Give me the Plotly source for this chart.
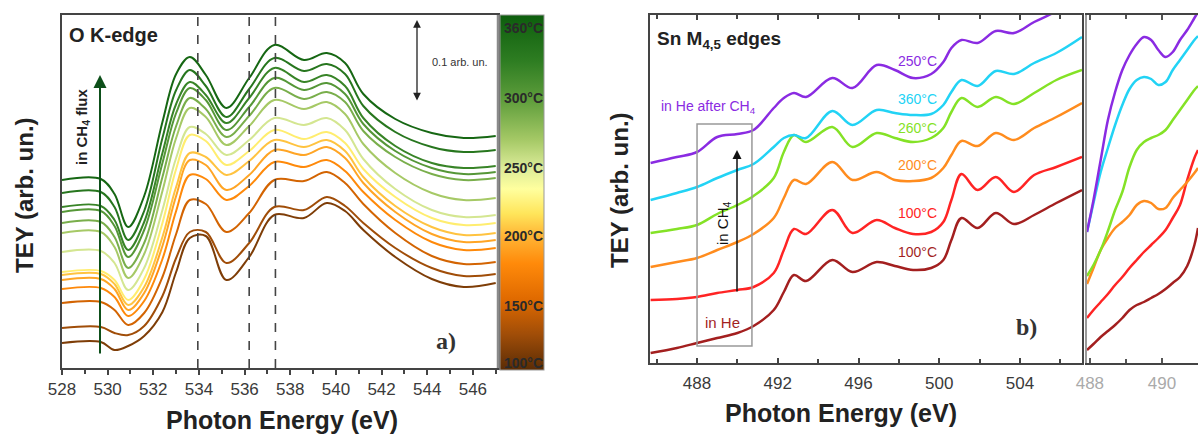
import numpy as np
import plotly.graph_objects as go
from plotly.colors import sample_colorscale

W, H = 1198, 438

# ---------------- Panel a : O K-edge (TEY, arbitrary units) ----------------
E_a = [528, 529.7, 530.3, 530.9, 531.6, 532.4, 533.0, 533.6, 534.3, 535.2,
       536.2, 537.3, 538.6, 539.6, 540.4, 541.2, 542.6, 544.2, 545.6, 547.0]

# estimated temperature (deg C) of each spectrum, bottom -> top
temps_a = [110, 125, 150, 180, 193, 205, 222, 253, 270, 288, 305, 325, 340, 360]

okedge_01 = [25, 26, 18, 22, 32, 56, 96, 130, 132, 88, 111, 153, 150, 165, 157, 138, 111, 89, 81, 85]
okedge_02 = [40, 41, 35, 33, 42, 72, 110, 136, 136, 105, 125, 161, 158, 171, 162, 145, 120, 100, 92, 94]
okedge_03 = [65, 66, 58, 43, 55, 91, 134, 168, 164, 136, 155, 188, 187, 196, 185, 164, 135, 112, 104, 106]
okedge_04 = [79, 80, 71, 52, 67, 109, 157, 193, 189, 168, 182, 206, 201, 208, 197, 176, 148, 126, 118, 120]
okedge_05 = [88, 89, 79, 58, 75, 122, 172, 208, 203, 178, 193, 218, 213, 221, 210, 185, 156, 134, 126, 128]
okedge_06 = [93, 94, 84, 63, 81, 131, 181, 215, 211, 193, 207, 228, 221, 228, 217, 191, 162, 141, 133, 135]
okedge_07 = [96, 97, 88, 68, 89, 145, 199, 233, 227, 203, 217, 238, 229, 236, 225, 199, 171, 150, 143, 145]
okedge_08 = [116, 117, 105, 78, 100, 158, 210, 241, 234, 213, 228, 250, 243, 250, 238, 209, 179, 158, 151, 153]
okedge_09 = [135, 136, 121, 90, 114, 177, 230, 260, 251, 223, 242, 268, 259, 266, 254, 224, 195, 175, 168, 170]
okedge_10 = [145, 146, 131, 100, 125, 191, 242, 270, 259, 231, 252, 280, 269, 276, 266, 237, 211, 194, 188, 190]
okedge_11 = [156, 157, 142, 111, 138, 205, 255, 280, 268, 238, 261, 290, 278, 285, 274, 244, 217, 200, 194, 196]
okedge_12 = [161, 162, 148, 118, 146, 215, 264, 286, 273, 245, 270, 300, 286, 293, 282, 250, 222, 205, 200, 202]
okedge_13 = [175, 176, 161, 128, 157, 230, 278, 298, 282, 251, 279, 310, 297, 304, 294, 262, 236, 221, 216, 218]
okedge_14 = [188, 189, 174, 141, 172, 246, 294, 311, 293, 260, 290, 323, 308, 315, 305, 274, 249, 235, 230, 232]

okedge_curves = [okedge_01, okedge_02, okedge_03, okedge_04, okedge_05, okedge_06, okedge_07,
                 okedge_08, okedge_09, okedge_10, okedge_11, okedge_12, okedge_13, okedge_14]

dashed_E = [533.95, 536.2, 537.35]

cb_tick_T = [100, 150, 200, 250, 300, 360]
cb_tick_text = ["100°C", "150°C", "200°C", "250°C", "300°C", "360°C"]
cb_tick_pos = [0.02, 0.18, 0.377, 0.569, 0.766, 0.963]

colorscale_a = [[0.0, '#5a2c05'], [0.1, '#a04d08'], [0.2, '#e06a00'], [0.3, '#ff8a0a'],
                [0.38, '#ffb636'], [0.44, '#ffe55a'], [0.51, '#ffff9e'], [0.57, '#dbeb98'],
                [0.65, '#a4c865'], [0.76, '#5f9e3c'], [0.87, '#2e7d22'], [1.0, '#0d5e0d']]

# ---------------- Panel b : Sn M4,5 edges ----------------
E_b = [485.7, 487, 488, 489, 490, 490.8, 491.8, 492.3, 492.8, 493.4, 494.7, 495.7, 496.9,
       497.8, 498.7, 499.6, 500.2, 500.6, 501.1, 501.9, 502.8, 503.7, 504.7, 505.8, 507.07]

sn_he = [10, 15, 20, 25, 30, 37, 53, 71, 88, 82, 103, 91, 101, 97, 93, 95, 103, 123, 145, 135, 150, 139, 148, 160, 173]
sn_100 = [63, 64, 66, 70, 73, 76, 90, 113, 134, 129, 153, 130, 143, 135, 129, 131, 141, 163, 189, 173, 186, 171, 188, 196, 206]
sn_200 = [96, 101, 105, 113, 121, 129, 145, 165, 183, 179, 201, 183, 191, 183, 182, 185, 195, 208, 222, 217, 230, 223, 235, 246, 260]
sn_260 = [130, 134, 138, 149, 158, 167, 185, 211, 228, 221, 236, 216, 230, 225, 221, 225, 235, 251, 265, 256, 266, 259, 270, 283, 293]
sn_360 = [163, 170, 176, 185, 193, 199, 216, 225, 228, 225, 252, 238, 253, 250, 248, 249, 258, 271, 283, 277, 292, 289, 300, 310, 326]
sn_250_after = [200, 206, 211, 226, 229, 233, 255, 265, 270, 266, 285, 275, 298, 293, 285, 289, 301, 315, 323, 320, 332, 330, 341, 352, 372]

sn_labels = ["100°C", "100°C", "200°C", "260°C", "360°C", "250°C"]
sn_colors = ['#a31f1f', '#ff2424', '#ff8c1e', '#84e226', '#22d3f5', '#8a2be2']

# ---------------- Panel c : zoom 488-491 eV ----------------
E_c = [487.92, 488.1, 488.3, 488.5, 488.7, 488.9, 489.1, 489.3, 489.5, 489.7, 489.9,
       490.1, 490.3, 490.5, 490.7, 490.9, 491.0]

zc_he = [13, 19, 26, 32, 38, 45, 53, 58, 61, 65, 69, 74, 80, 86, 97, 118, 135]
zc_100 = [45, 53, 61, 69, 78, 86, 95, 103, 111, 118, 125, 133, 145, 158, 183, 205, 213]
zc_200 = [79, 95, 113, 125, 135, 141, 148, 158, 162, 160, 154, 155, 165, 173, 181, 190, 195]
zc_260 = [87, 98, 113, 132, 153, 171, 196, 213, 221, 225, 228, 233, 243, 253, 263, 273, 277]
zc_360 = [131, 160, 191, 215, 238, 258, 274, 283, 286, 284, 278, 281, 293, 303, 313, 323, 327]
zc_250_after = [131, 163, 203, 243, 271, 293, 308, 319, 326, 323, 313, 306, 311, 323, 333, 345, 351]

FONT = "Liberation Sans, Arial, sans-serif"
SERIF = "Liberation Serif, Times New Roman, serif"


def px(x):
    return x / W


def py(y):
    return 1 - y / H


fig = go.Figure()

# panel a curves
fvals = np.interp(temps_a, cb_tick_T, cb_tick_pos)
curve_cols = sample_colorscale(colorscale_a, list(fvals))
for T, ys, c in zip(temps_a, okedge_curves, curve_cols):
    fig.add_trace(go.Scatter(x=E_a, y=ys, mode='lines', line=dict(color=c, width=2, shape='spline', smoothing=1.0),
                             xaxis='x', yaxis='y', showlegend=False, hoverinfo='skip', name=f"{T}°C"))

# colorbar carrier
fig.add_trace(go.Scatter(x=[None], y=[None], mode='markers', xaxis='x', yaxis='y', showlegend=False,
                         marker=dict(color=[0.5], colorscale=colorscale_a, cmin=0, cmax=1, showscale=True,
                                     colorbar=dict(thickness=44, thicknessmode='pixels', len=355, lenmode='pixels',
                                                   x=px(500), xanchor='left', y=py(192.5), yanchor='middle',
                                                   xpad=0, ypad=0, outlinewidth=1, outlinecolor='#999',
                                                   showticklabels=False, ticks=''))))

# panel b curves
for ys, c in zip([sn_he, sn_100, sn_200, sn_260, sn_360, sn_250_after], sn_colors):
    fig.add_trace(go.Scatter(x=E_b, y=ys, mode='lines', line=dict(color=c, width=2.5, shape='spline', smoothing=1.0),
                             xaxis='x2', yaxis='y2', showlegend=False, hoverinfo='skip'))

# panel c curves
for ys, c in zip([zc_he, zc_100, zc_200, zc_260, zc_360, zc_250_after], sn_colors):
    fig.add_trace(go.Scatter(x=E_c, y=ys, mode='lines', line=dict(color=c, width=2.5, shape='spline', smoothing=1.0),
                             xaxis='x3', yaxis='y3', showlegend=False, hoverinfo='skip'))

axline = dict(showline=True, linecolor='#444', linewidth=2, showgrid=False, zeroline=False)

fig.update_layout(
    width=W, height=H, margin=dict(l=0, r=0, t=0, b=0, autoexpand=False),
    paper_bgcolor='white', plot_bgcolor='white',
    font=dict(family=FONT, color='#333'),
    xaxis=dict(domain=[px(62), px(498)], range=[528, 547.1], tick0=528, dtick=2, ticks='outside', ticklen=5,
               tickwidth=1.5, tickcolor='#444', minor=dict(dtick=1, ticks='outside', ticklen=4, tickcolor='#444'),
               mirror=True, tickfont=dict(size=17, color='#3a3a3a'), anchor='y', **axline),
    yaxis=dict(domain=[py(368), py(15)], range=[0, 353], showticklabels=False, ticks='', mirror=True,
               anchor='x', **axline),
    xaxis2=dict(domain=[px(650), px(1082)], range=[485.67, 507.07], tick0=488, dtick=4, ticks='inside', ticklen=5,
                tickwidth=1.5, tickcolor='#444', minor=dict(dtick=2, ticks='inside', ticklen=4, tickcolor='#444'),
                mirror='ticks', tickfont=dict(size=17, color='#3a3a3a'), ticklabelstandoff=4, anchor='y2', **axline),
    yaxis2=dict(domain=[py(363), py(15)], range=[0, 348], showticklabels=False, ticks='', mirror=True,
                anchor='x2', **axline),
    xaxis3=dict(domain=[px(1087), 1.0], range=[487.92, 491.0], tick0=488, dtick=2, ticks='inside', ticklen=5,
                tickwidth=1.5, tickcolor='#555', minor=dict(dtick=1, ticks='inside', ticklen=4, tickcolor='#555'),
                mirror='ticks', tickfont=dict(size=17, color='#aaa'), ticklabelstandoff=4, anchor='y3', **axline),
    yaxis3=dict(domain=[py(363), py(15)], range=[0, 348], showticklabels=False, ticks='', mirror=False,
                anchor='x3', showline=True, linecolor='#9a9a9a', linewidth=2, showgrid=False, zeroline=False),
)

shapes = []
for e in dashed_E:
    shapes.append(dict(type='line', xref='x', yref='y domain', x0=e, x1=e, y0=0, y1=1,
                       line=dict(color='#444', width=1.6, dash='dash')))
shapes.append(dict(type='line', xref='x domain', yref='y domain', x0=1, x1=1, y0=0, y1=1,
                   line=dict(color='#8a8a8a', width=2.5)))
shapes.append(dict(type='rect', xref='x2', yref='paper', x0=488.0, x1=490.72, y0=py(346), y1=py(124),
                   line=dict(color='#999', width=1.5)))
fig.update_layout(shapes=shapes)

ann = []


def A(x, y, text, **kw):
    d = dict(x=px(x), y=py(y), xref='paper', yref='paper', text=text, showarrow=False,
             xanchor='center', yanchor='middle')
    d.update(kw)
    ann.append(d)


# axis titles
A(282, 420, "<b>Photon Energy (eV)</b>", font=dict(size=25, color='#222'))
A(841, 413, "<b>Photon Energy (eV)</b>", font=dict(size=25, color='#222'))
A(24, 195, "<b>TEY (arb. un.)</b>", textangle=-90, font=dict(size=24, color='#222'))
A(619, 190, "<b>TEY (arb. un.)</b>", textangle=-90, font=dict(size=24, color='#222'))

# panel a texts
A(67, 35, "<b>O K-edge</b>", xanchor='left', font=dict(size=20, color='#222'))
A(82, 127, "<b>in CH<sub>4</sub> flux</b>", textangle=-90, font=dict(size=15, color='#222'))
A(430, 62, "0.1 arb. un.", xanchor='left', font=dict(size=11, color='#333'))
A(446, 341, "<b>a)</b>", font=dict(size=24, family=SERIF, color='#333'))
for t, f in zip(cb_tick_text, cb_tick_pos):
    A(502, 15 + (1 - f) * 355, "<b>" + t + "</b>", xanchor='left', font=dict(size=14, color='#2a2a2a'))

# arrows
ann.append(dict(x=px(100), y=py(75), xref='paper', yref='paper', ax=0, ay=280, text='', showarrow=True,
                arrowhead=2, arrowsize=1.3, arrowwidth=2, arrowcolor='#0d4f1a', standoff=0, startstandoff=0))
ann.append(dict(x=px(417), y=py(20), xref='paper', yref='paper', ax=0, ay=82, text='', showarrow=True,
                arrowhead=2, arrowsize=1.2, arrowwidth=1.3, arrowcolor='#222', arrowside='end+start',
                standoff=0, startstandoff=0))
ann.append(dict(x=px(737), y=py(150), xref='paper', yref='paper', ax=0, ay=143, text='', showarrow=True,
                arrowhead=2, arrowsize=1.2, arrowwidth=1.5, arrowcolor='#111', standoff=0, startstandoff=0))

# panel b texts
A(655, 40, "<b>Sn M<sub>4,5</sub> edges</b>", xanchor='left', font=dict(size=19, color='#222'))
A(659, 107, "in He after CH<sub>4</sub>", xanchor='left', font=dict(size=14, color='#8a2be2'))
A(703, 322, "in He", xanchor='left', font=dict(size=15, color='#a31f1f'))
A(723, 223, "in CH<sub>4</sub>", textangle=-90, font=dict(size=15, color='#111'))
A(1026, 327, "<b>b)</b>", font=dict(size=24, family=SERIF, color='#333'))
label_y = [252, 213, 165, 128, 99, 61]
for lab, c, yy in zip(sn_labels, sn_colors, label_y):
    A(917, yy, lab, font=dict(size=14, color=c))

fig.update_layout(annotations=ann)

fig.write_html("out.html", config={'displayModeBar': False},
               post_script="document.body.style.margin='0px';")
